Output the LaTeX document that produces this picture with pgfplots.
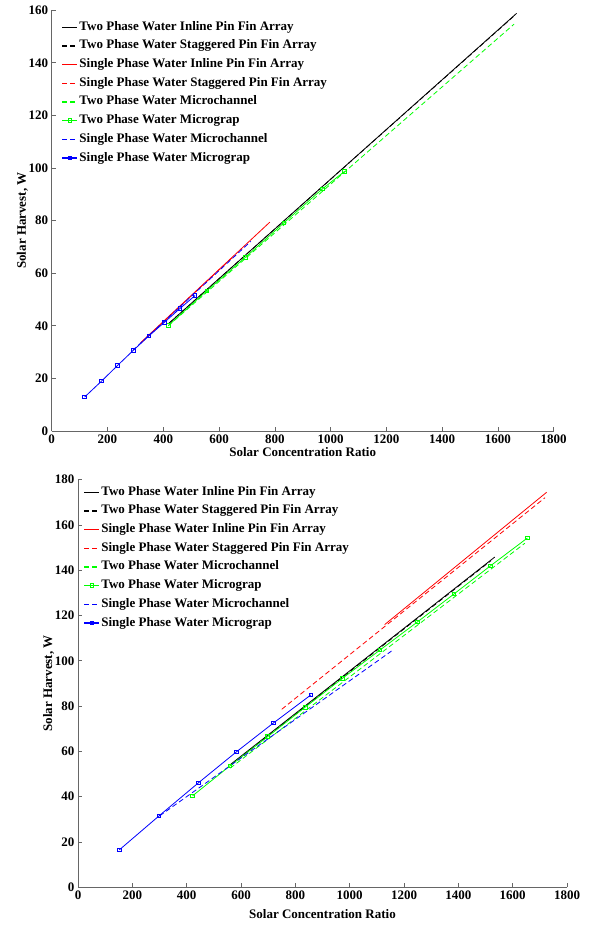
\documentclass[border=0pt]{standalone}
\usepackage{pgfplots}
\pgfplotsset{compat=1.18}
\usepackage{fontspec}
\setmainfont{Liberation Serif}
\definecolor{mblue}{RGB}{0,0,255}
\definecolor{mred}{RGB}{255,0,0}
\definecolor{mgreen}{RGB}{0,255,0}
\pgfplotsset{
  legend image code/.code={\draw[mark repeat=2,mark phase=2,#1,line width=1.3pt,every mark/.append style={line width=0.8pt}] plot coordinates {(0pt,0pt) (7.5pt,0pt) (15pt,0pt)};},
  mk/.style={mark=square, mark size=1.8pt, mark options={solid}},
  dsh/.style={dash pattern=on 5pt off 3pt},
  mystyle/.style={
    scale only axis,
    anchor=south west,
    axis lines=left,
    axis line style={-, black!60, line width=0.6pt},
    tick style={black!60, line width=0.6pt},
    tick align=inside,
    major tick length=4pt,
    xmin=0, xmax=1800, ymin=0,
    xtick distance=200, ytick distance=20,
    /pgf/number format/assume math mode=true,
    /pgf/number format/set thousands separator={},
    ticklabel style={font=\fontsize{13}{15}\selectfont\bfseries},
    xlabel={Solar Concentration Ratio},
    ylabel={Solar Harvest, W},
    ylabel shift=-6pt,
    label style={font=\fontsize{13}{15}\selectfont\bfseries},
    legend cell align=left,
    legend style={draw=none, fill=none, font=\fontsize{13}{15}\selectfont\bfseries,
      inner sep=0pt, row sep=3.7pt,
      nodes={inner sep=1.5pt, text height=9pt, text depth=3pt}},
    every axis plot/.append style={line width=0.8pt},
  }
}
\begin{document}
\begin{tikzpicture}[x=1pt,y=1pt]
\useasboundingbox (0,0) rectangle (593,926);
% ---------------- top ----------------
\begin{axis}[mystyle, at={(51.7pt,495pt)}, width=502pt, height=420.8pt, ymax=160,
  xlabel style={yshift=3pt},
  legend style={at={(0.0195,0.978)}, anchor=north west}]
\addplot[color=black] coordinates {(421,41) (1667,158.8)};
\addlegendentry{Two Phase Water Inline Pin Fin Array}
\addplot[color=black, dsh] coordinates {(421,41) (1660,158.0)};
\addlegendentry{Two Phase Water Staggered Pin Fin Array}
\addplot[color=mred] coordinates {(319,33.6) (782,79.4)};
\addlegendentry{Single Phase Water Inline Pin Fin Array}
\addplot[color=mred, dsh] coordinates {(319,33.4) (650,66.2)};
\addlegendentry{Single Phase Water Staggered Pin Fin Array}
\addplot[color=mgreen, dsh] coordinates {(418,40.0) (1658,154.7)};
\addlegendentry{Two Phase Water Microchannel}
\addplot[color=mgreen, mk] coordinates {(418,40.1) (556,53.3) (694,66.0) (832,79.1) (970,92.0) (1050,98.7)};
\addlegendentry{Two Phase Water Micrograp}
\addplot[color=mblue, dsh] coordinates {(290,30.6) (714,72.1)};
\addlegendentry{Single Phase Water Microchannel}
\addplot[color=mblue, mk] coordinates {(118,12.9) (179,19.0) (236,24.9) (292,30.6) (349,36.2) (405,41.4) (459,46.5) (514,51.5)};
\addlegendentry{Single Phase Water Micrograp}
\end{axis}
% ---------------- bottom ----------------
\begin{axis}[mystyle, at={(78pt,38.7pt)}, width=489pt, height=407.7pt, ymax=180,
  xlabel style={yshift=-3pt},
  legend style={at={(0.011,0.988)}, anchor=north west}]
\addplot[color=black] coordinates {(563,54.4) (1534,145.8)};
\addlegendentry{Two Phase Water Inline Pin Fin Array}
\addplot[color=black, dsh] coordinates {(563,54.0) (1520,144.2)};
\addlegendentry{Two Phase Water Staggered Pin Fin Array}
\addplot[color=mred] coordinates {(1129,116) (1725,174.4)};
\addlegendentry{Single Phase Water Inline Pin Fin Array}
\addplot[color=mred, dsh] coordinates {(750,78.6) (1719,172.0)};
\addlegendentry{Single Phase Water Staggered Pin Fin Array}
\addplot[color=mgreen, dsh] coordinates {(560,52.6) (1645,151.9)};
\addlegendentry{Two Phase Water Microchannel}
\addplot[color=mgreen, mk] coordinates {(422,40.4) (559,53.6) (698,66.5) (836,79.5) (974,92.3) (1112,104.8) (1250,117.2) (1384,129.5) (1518,141.9) (1654,154.2)};
\addlegendentry{Two Phase Water Micrograp}
\addplot[color=mblue, dsh] coordinates {(300,31.5) (1154,104.3)};
\addlegendentry{Single Phase Water Microchannel}
\addplot[color=mblue, mk] coordinates {(152,16.5) (298,31.5) (443,46.1) (582,59.7) (720,72.6) (857,84.9)};
\addlegendentry{Single Phase Water Micrograp}
\end{axis}
\end{tikzpicture}
\end{document}
